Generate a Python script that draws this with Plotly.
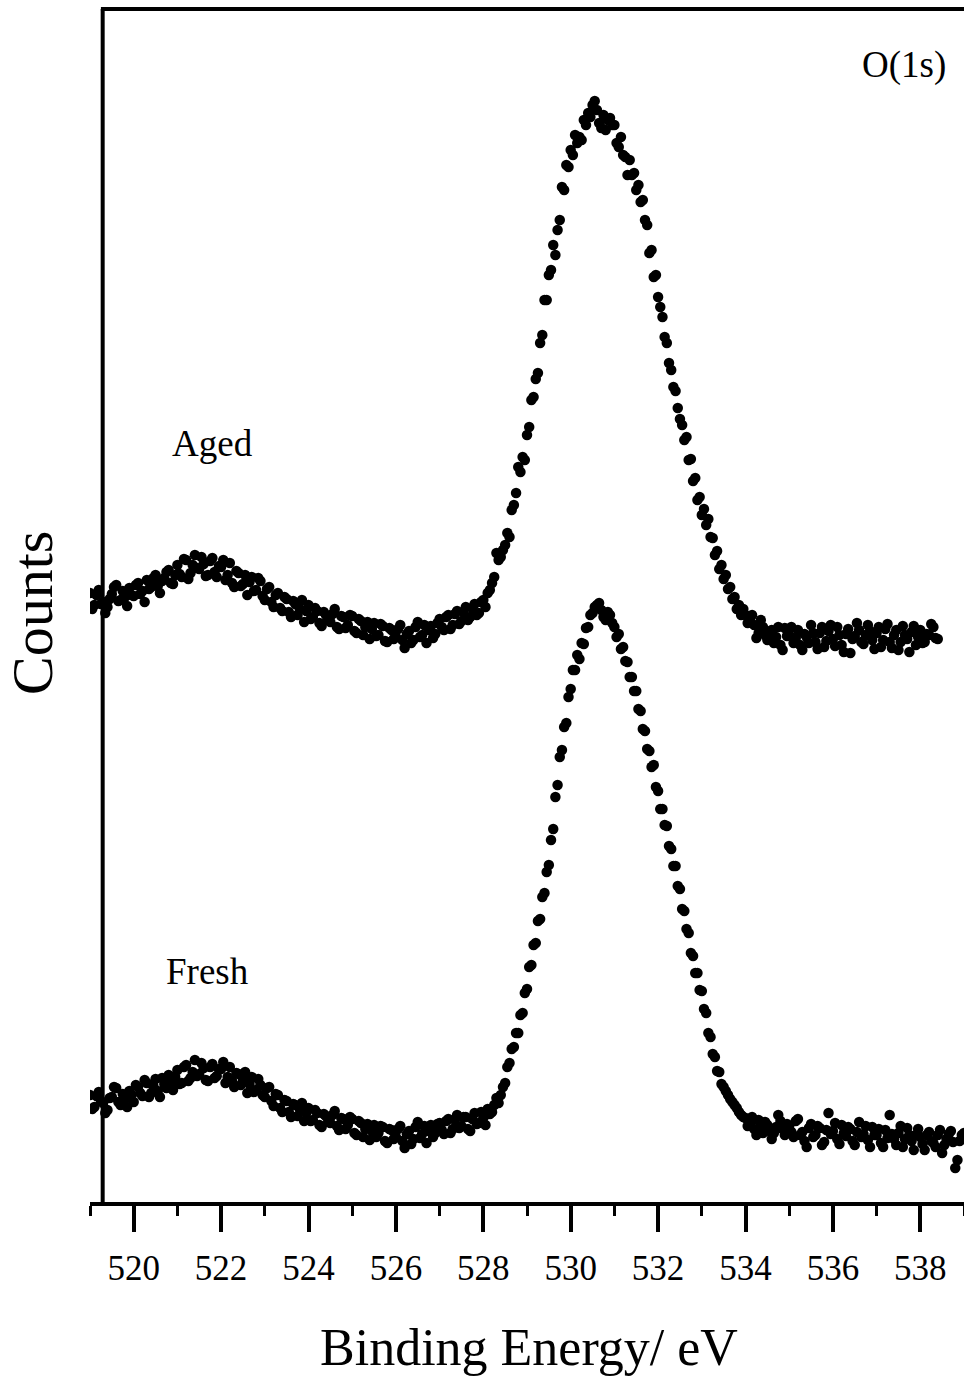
import numpy as np
import plotly.graph_objects as go

# Binding energy grids (eV), 0.05 eV acquisition step
e_start = 519.0
e_step = 0.05
aged_energy = np.round(e_start + e_step * np.arange(389), 3)   # 519.0 .. 538.4
fresh_energy = np.round(e_start + e_step * np.arange(401), 3)  # 519.0 .. 539.0

# O(1s) counts (arbitrary units)
aged_counts = [
    612, 596, 600, 610, 615, 601, 603, 592, 598, 606,
    611, 618, 620, 604, 605, 614, 608, 599, 617, 610,
    609, 620, 622, 611, 614, 603, 625, 616, 618, 627,
    630, 619, 612, 624, 627, 633, 635, 622, 621, 630,
    640, 631, 628, 646, 645, 626, 632, 640, 650, 637,
    636, 648, 641, 629, 630, 644, 647, 633, 628, 639,
    638, 645, 625, 630, 642, 622, 618, 634, 632, 619,
    621, 630, 610, 623, 628, 614, 615, 627, 624, 609,
    605, 616, 618, 603, 598, 610, 612, 597, 594, 608,
    606, 593, 588, 604, 601, 590, 596, 605, 583, 594,
    600, 586, 588, 597, 594, 582, 579, 593, 590, 585,
    583, 591, 596, 578, 576, 589, 588, 577, 580, 590,
    589, 574, 572, 586, 584, 570, 578, 583, 566, 576,
    582, 569, 570, 581, 579, 564, 563, 577, 575, 566,
    568, 576, 580, 565, 557, 571, 574, 562, 565, 578,
    583, 568, 570, 580, 562, 575, 579, 567, 571, 582,
    586, 578, 575, 588, 590, 576, 580, 591, 594, 581,
    584, 593, 598, 585, 588, 597, 601, 590, 592, 603,
    605, 598, 612, 615, 622, 628, 652, 645, 648, 655,
    660, 672, 668, 695, 700, 712, 738, 733, 748, 745,
    770, 778, 805, 808, 826, 832, 862, 870, 905, 905,
    930, 935, 960, 950, 975, 985, 1018, 1015, 1040, 1038,
    1055, 1050, 1070, 1062, 1068, 1065, 1085, 1080, 1092, 1088,
    1100, 1104, 1095, 1082, 1077, 1090, 1075, 1085, 1087, 1080,
    1080, 1062, 1058, 1068, 1050, 1048, 1030, 1045, 1030, 1032,
    1015, 1020, 1003, 1005, 985, 980, 952, 955, 928, 930,
    908, 898, 888, 868, 862, 842, 835, 818, 814, 797,
    786, 780, 765, 768, 745, 746, 724, 727, 705, 708,
    690, 696, 680, 686, 668, 667, 650, 654, 636, 640,
    626, 630, 616, 618, 606, 608, 596, 600, 590, 596,
    590, 582, 585, 590, 580, 567, 572, 585, 578, 570,
    565, 573, 575, 562, 568, 578, 560, 555, 577, 569,
    570, 578, 562, 567, 575, 560, 555, 571, 568, 562,
    580, 572, 563, 556, 572, 578, 558, 564, 574, 580,
    566, 559, 578, 570, 560, 553, 571, 576, 552, 566,
    569, 582, 575, 563, 561, 570, 580, 574, 565, 556,
    572, 578, 558, 565, 576, 581, 563, 557, 570, 575,
    555, 563, 579, 570, 566, 553, 573, 579, 560, 568,
    575, 562, 563, 571, 570, 581, 578, 567, 566,
]

fresh_counts = [
    110, 96, 98, 109, 113, 104, 102, 92, 95, 107,
    108, 118, 117, 103, 100, 111, 106, 98, 114, 110,
    103, 120, 118, 112, 109, 125, 122, 108, 112, 119,
    126, 114, 108, 127, 121, 117, 130, 122, 115, 128,
    135, 121, 122, 138, 140, 124, 127, 133, 145, 129,
    131, 142, 137, 125, 124, 138, 141, 127, 129, 136,
    136, 143, 122, 128, 138, 124, 118, 132, 131, 120,
    125, 133, 112, 121, 128, 113, 115, 126, 120, 110,
    108, 117, 118, 104, 99, 111, 110, 97, 93, 105,
    104, 93, 88, 101, 100, 89, 96, 102, 84, 92,
    97, 84, 85, 95, 92, 80, 78, 91, 89, 83,
    82, 90, 94, 79, 75, 87, 86, 76, 80, 88,
    86, 72, 70, 84, 82, 68, 76, 81, 65, 74,
    80, 68, 72, 79, 78, 64, 62, 76, 75, 66,
    68, 76, 79, 64, 57, 71, 74, 61, 66, 78,
    83, 67, 71, 79, 62, 74, 80, 68, 72, 81,
    82, 75, 71, 84, 86, 72, 76, 85, 90, 77,
    79, 88, 88, 76, 74, 86, 92, 81, 82, 93,
    87, 80, 96, 91, 93, 100, 107, 102, 110, 118,
    122, 138, 142, 156, 158, 172, 172, 190, 192, 212,
    216, 238, 240, 260, 262, 284, 286, 308, 312, 333,
    340, 365, 376, 408, 420, 448, 455, 478, 482, 508,
    516, 535, 535, 550, 546, 562, 561, 577, 578, 590,
    592, 598, 600, 602, 595, 588, 585, 593, 590, 582,
    578, 568, 571, 556, 558, 544, 543, 528, 528, 514,
    514, 496, 494, 476, 474, 456, 454, 438, 440, 418,
    414, 396, 396, 380, 379, 359, 356, 339, 339, 319,
    316, 296, 294, 276, 272, 252, 249, 232, 232, 215,
    214, 196, 192, 172, 168, 151, 148, 134, 133, 121,
    118, 114, 110, 106, 103, 100, 97, 93, 90, 88,
    87, 79, 82, 88, 76, 70, 85, 80, 72, 83,
    80, 74, 66, 72, 78, 90, 84, 76, 70, 81,
    79, 73, 68, 84, 86, 70, 73, 64, 58, 77,
    81, 68, 70, 79, 77, 60, 63, 75, 92, 71,
    74, 82, 66, 61, 80, 72, 69, 78, 76, 64,
    60, 73, 83, 68, 71, 79, 65, 58, 78, 70,
    70, 76, 62, 58, 75, 67, 90, 71, 66, 60,
    72, 79, 58, 66, 77, 70, 64, 55, 70, 76,
    68, 61, 55, 70, 73, 64, 62, 58, 70, 75,
    52, 60, 66, 71, 74, 63, 37, 45, 64, 70,
    72,
]

major_ticks = [520, 522, 524, 526, 528, 530, 532, 534, 536, 538]
major_labels = [str(v) for v in major_ticks]

FONT = "Liberation Serif"

fig = go.Figure()
marker = dict(color="black", size=10.5, line=dict(width=0))
fig.add_trace(go.Scatter(x=aged_energy, y=aged_counts, mode="markers",
                         marker=marker, name="Aged", showlegend=False))
fig.add_trace(go.Scatter(x=fresh_energy, y=fresh_counts, mode="markers",
                         marker=marker, name="Fresh", showlegend=False))

fig.update_layout(
    width=964, height=1377,
    margin=dict(l=90, r=0, t=9, b=175),
    paper_bgcolor="white", plot_bgcolor="white",
    font=dict(family=FONT, color="black"),
    xaxis=dict(
        range=[519, 539], showgrid=False, zeroline=False,
        showline=True, linecolor="black", linewidth=4,
        tickmode="array", tickvals=major_ticks, ticktext=major_labels,
        ticks="outside", ticklen=26, tickwidth=3.5, tickcolor="black",
        ticklabelstandoff=6,
        tickfont=dict(family=FONT, size=35, color="black"),
        minor=dict(tickmode="linear", tick0=519, dtick=1, ticks="outside",
                   ticklen=10, tickwidth=3, tickcolor="black", showgrid=False),
    ),
    yaxis=dict(
        range=[3, 1196], showgrid=False, zeroline=False, showline=False,
        showticklabels=False, ticks="",
    ),
    shapes=[
        dict(type="line", xref="paper", yref="paper",
             x0=0.0145, x1=0.0145, y0=0, y1=1,
             line=dict(color="black", width=4)),
        dict(type="line", xref="paper", yref="paper",
             x0=0.0125, x1=1, y0=1, y1=1,
             line=dict(color="black", width=4)),
    ],
    annotations=[
        dict(text="O(1s)", x=0.9314, y=0.953, xref="paper", yref="paper",
             showarrow=False, xanchor="center", yanchor="middle",
             font=dict(family=FONT, size=37, color="black")),
        dict(text="Aged", x=0.1396, y=0.6362, xref="paper", yref="paper",
             showarrow=False, xanchor="center", yanchor="middle",
             font=dict(family=FONT, size=37, color="black")),
        dict(text="Fresh", x=0.135, y=0.1936, xref="paper", yref="paper",
             showarrow=False, xanchor="center", yanchor="middle",
             font=dict(family=FONT, size=37, color="black")),
        dict(text="Counts", x=-0.0664, y=0.4937, xref="paper", yref="paper",
             showarrow=False, xanchor="center", yanchor="middle", textangle=-90,
             font=dict(family=FONT, size=58, color="black")),
        dict(text="Binding Energy/ eV", x=0.502, y=-0.122, xref="paper", yref="paper",
             showarrow=False, xanchor="center", yanchor="middle",
             font=dict(family=FONT, size=52, color="black")),
    ],
)

fig.write_html("out.html", config={"displayModeBar": False},
               post_script="document.body.style.margin='0px';")
